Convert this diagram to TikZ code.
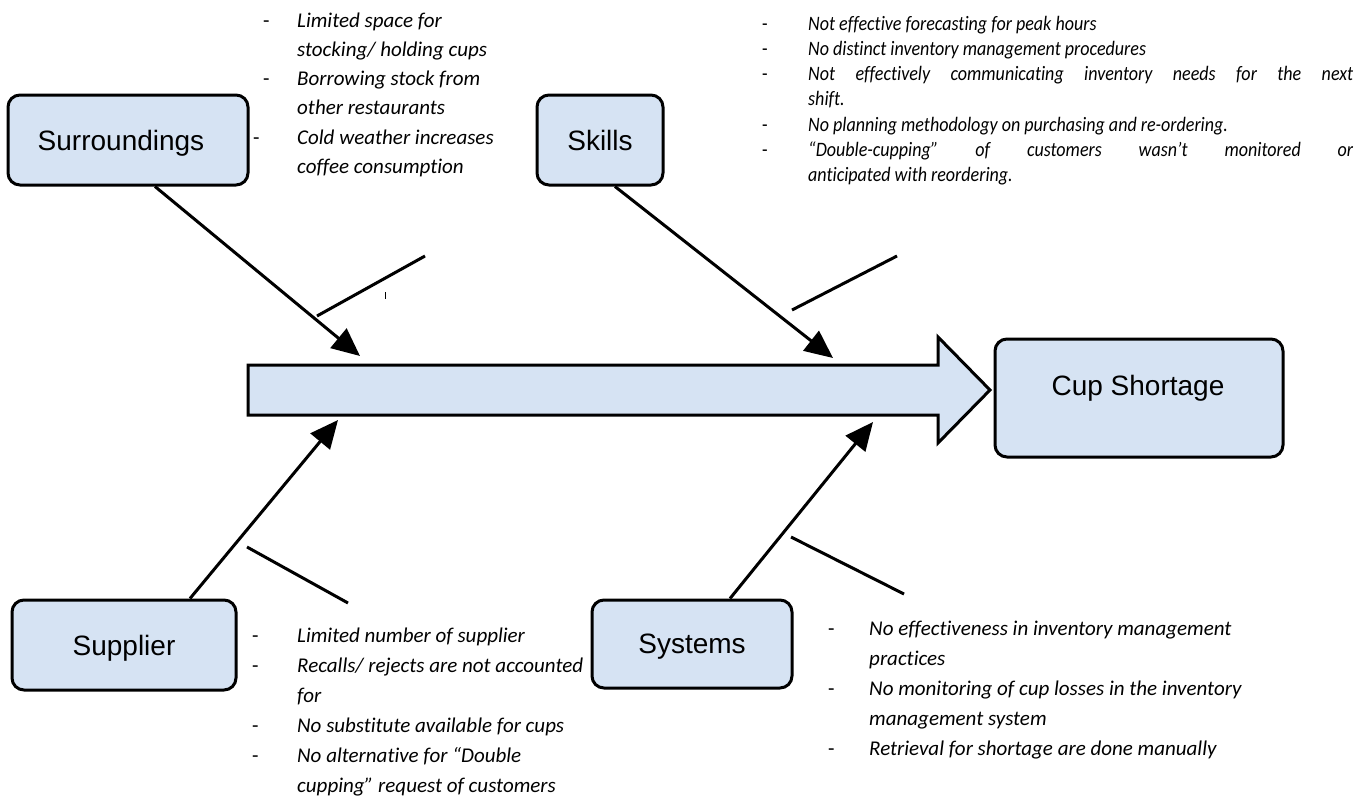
\documentclass[tikz,border=0pt]{standalone}
\usepackage{fontspec}
\setmainfont{Carlito}[Ligatures=NoCommon]
\newfontfamily\sklfont{Carlito}[FakeStretch=0.88,Ligatures=NoCommon]
\newfontfamily\arialf{Liberation Sans}
\usetikzlibrary{arrows.meta}
\definecolor{boxblue}{RGB}{214,227,243}
\newlength{\dashw}
\newcommand{\bitem}[1]{\par\hangindent=\dashw\hangafter=1\noindent\makebox[\dashw][l]{\upshape -}#1}
\newcommand{\bitemx}[2]{\par\hangindent=\dashw\hangafter=1\noindent\makebox[\dashw][l]{\hspace*{#1}\upshape -}#2}
\begin{document}
\begin{tikzpicture}[x=1pt,y=-1pt,
  box/.style={draw=black, line width=3pt, fill=boxblue, rounded corners=12pt, inner sep=0pt},
  lbl/.style={font=\arialf\fontsize{28}{32}\selectfont, inner sep=0pt, anchor=base},
  txt/.style={anchor=base west, inner sep=0pt, font=\itshape},
  conn/.style={line width=3pt, -{Triangle[length=28pt,width=25pt]}},
  bone/.style={line width=3pt},
]
\useasboundingbox (0,0) rectangle (1364,798);

% spine
\draw[line width=3pt, fill=boxblue, line join=miter]
  (248,365) -- (938,365) -- (938,337) -- (990,390) -- (938,443) -- (938,415) -- (248,415) -- cycle;

% boxes
\node[box, minimum width=240pt, minimum height=90pt] (sur) at (128,140) {};
\node[box, minimum width=126pt, minimum height=90pt] (skl) at (600,140) {};
\node[box, minimum width=224pt, minimum height=90pt] (sup) at (124,645) {};
\node[box, minimum width=200pt, minimum height=88pt] (sys) at (692,644) {};
\node[box, minimum width=288pt, minimum height=118pt] (cup) at (1139,398) {};

\node[lbl] (surl) at (121,150) {Surroundings};
\node[lbl] (skll) at (600,150) {Skills};
\node[lbl] (supl) at (124,655) {Supplier};
\node[lbl] (sysl) at (692,653) {Systems};
\node[lbl] (cupl) at (1138,395) {Cup Shortage};

% arrows
\coordinate (t1) at (360,356);
\coordinate (t2) at (833,358);
\coordinate (t3) at (338,420);
\coordinate (t4) at (873,422);
\draw[conn] ([xshift=27pt]sur.south) -- (t1);
\draw[conn] ([xshift=15pt]skl.south) -- (t2);
\draw[conn] ([xshift=66pt]sup.north) -- (t3);
\draw[conn] ([xshift=38pt]sys.north) -- (t4);

% branches
\coordinate (b1a) at (317,316); \coordinate (b1b) at (425,256);
\coordinate (b2a) at (792,310); \coordinate (b2b) at (897,256);
\coordinate (b3a) at (247,547); \coordinate (b3b) at (348,603);
\coordinate (b4a) at (791,537); \coordinate (b4b) at (904,594);
\draw[bone] (b1a) -- (b1b);
\draw[bone] (b2a) -- (b2b);
\draw[bone] (b3a) -- (b3b);
\draw[bone] (b4a) -- (b4b);
\coordinate (tka) at (385,292); \coordinate (tkb) at (385,299);
\draw[line width=1pt] (tka) -- (tkb);

% texts
\node[txt] (surtxt) at (263,27) {\parbox[t]{300pt}{\setlength{\dashw}{34pt}\fontsize{21}{29.3}\selectfont
\bitem{Limited space for\\stocking/ holding cups}
\bitem{Borrowing stock from\\other restaurants}
\bitemx{-10pt}{Cold weather increases\\coffee consumption}}};

\node[txt] (skltxt) at (762,30) {\parbox[t]{591pt}{\sklfont\itshape\setlength{\dashw}{46pt}\fontsize{20.5}{25.3}\selectfont
\bitem{Not effective forecasting for peak hours}
\bitem{No distinct inventory management procedures}
\bitem{Not effectively communicating inventory needs for the next\linebreak shift.}
\bitem{No planning methodology on purchasing and re-ordering.}
\bitem{“Double-cupping” of customers wasn’t monitored or\linebreak anticipated with reordering.}}};

\node[txt] (suptxt) at (252,642) {\parbox[t]{400pt}{\setlength{\dashw}{45pt}\fontsize{21}{30}\selectfont
\bitem{Limited number of supplier}
\bitem{Recalls/ rejects are not accounted\\for}
\bitem{No substitute available for cups}
\bitem{No alternative for “Double\\cupping” request of customers}}};

\node[txt] (systxt) at (828,635) {\parbox[t]{500pt}{\setlength{\dashw}{41pt}\fontsize{21}{30}\selectfont
\bitem{No effectiveness in inventory management\\practices}
\bitem{No monitoring of cup losses in the inventory\\management system}
\bitem{Retrieval for shortage are done manually}}};
\end{tikzpicture}
\end{document}
